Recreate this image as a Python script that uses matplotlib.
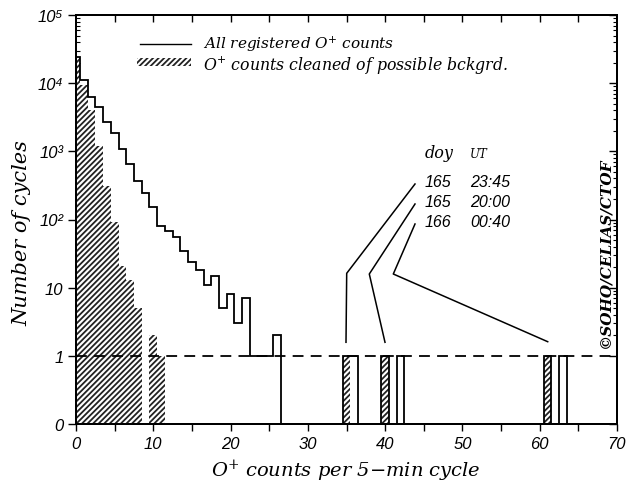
import numpy as np
import matplotlib
matplotlib.use("Agg")
import matplotlib.pyplot as plt
from matplotlib.patches import Rectangle
from matplotlib.ticker import FixedLocator, FixedFormatter
from matplotlib.font_manager import FontProperties

# ---------------- data ----------------
# counts per 5-min cycle (bin centres 0..70)
all_counts = [24000, 11000, 6300, 4500, 2700, 1870, 1070, 655, 370, 245,
              150, 81, 67, 55, 35, 24, 18, 11, 15, 5,
              8, 3, 7, 1, 1, 1, 2, 0, 0, 0,
              0, 0, 0, 0, 0, 1, 1, 0, 0, 0,
              1, 0, 1, 0, 0, 0, 0, 0, 0, 0,
              0, 0, 0, 0, 0, 0, 0, 0, 0, 0,
              0, 1, 0, 1, 0, 0, 0, 0, 0, 0, 0]
clean_bins = [0, 1, 2, 3, 4, 5, 6, 7, 8, 10, 11, 35, 40, 61]
clean_counts = [24000, 9500, 4000, 1200, 310, 92, 21, 13, 5, 2, 1, 1, 1, 1]

x_ticks = [0, 10, 20, 30, 40, 50, 60, 70]
y_ticks = [0, 1, 10, 100, 1000, 10000, 100000]
y_tick_labels = ["0", "1", "10", "10²", "10³", "10⁴", "10⁵"]

events_doy = ["165", "165", "166"]
events_ut = ["23:45", "20:00", "00:40"]

# ---------------- figure ----------------
plt.rcParams['mathtext.fontset'] = 'dejavuserif'
plt.rcParams['hatch.linewidth'] = 1.3
fig = plt.figure(figsize=(6.31, 4.85), dpi=100)
ax = fig.add_axes([76/631, 60/485, 541/631, 409/485])


def fwd(v):
    v = np.asarray(v, dtype=float)
    return np.where(v <= 1, v, 1 + np.log10(np.maximum(v, 1)))


def inv(t):
    t = np.asarray(t, dtype=float)
    return np.where(t <= 1, t, 10 ** (np.minimum(t, 20) - 1))


ax.set_yscale('function', functions=(fwd, inv))

# hatched (cleaned) histogram
ax.bar(clean_bins, clean_counts, width=1.0, align='center', bottom=0,
       facecolor='white', edgecolor='#222222', linewidth=0,
       hatch='//////', zorder=2)

# outline (all registered)
edges = np.arange(len(all_counts) + 1) - 0.5
ax.stairs(all_counts, edges, baseline=None, color='black', linewidth=1.3,
          zorder=3)

# dashed line at 1
ax.axhline(1, color='black', linestyle=(0, (6, 4)), linewidth=1.3, zorder=4)

ax.set_xlim(0, 70)
ax.set_ylim(0, 1e5)

# ticks
ax.xaxis.set_major_locator(FixedLocator(x_ticks))
ax.xaxis.set_minor_locator(FixedLocator(np.arange(5, 70, 10)))
ax.yaxis.set_major_locator(FixedLocator(y_ticks))
ax.yaxis.set_major_formatter(FixedFormatter(y_tick_labels))
minor_y = [m * 10 ** k for k in range(0, 5) for m in range(2, 10)]
ax.yaxis.set_minor_locator(FixedLocator(minor_y))

tickfp = FontProperties(family='Liberation Sans', style='italic', size=12)
for lab in ax.get_xticklabels() + ax.get_yticklabels():
    lab.set_fontproperties(tickfp)

ax.tick_params(axis='x', which='both', direction='out', length=5, width=1,
               top=False, pad=4)
ax.tick_params(axis='y', which='major', direction='out', length=6, width=1,
               pad=3)
ax.tick_params(axis='y', which='minor', direction='in', length=3, width=0.8)

# top and right inner ticks
axt = ax.twiny()
axt.set_xlim(0, 70)
axt.xaxis.set_major_locator(FixedLocator(np.arange(5, 70, 5)))
axt.tick_params(axis='x', direction='in', length=5, width=1, labeltop=False)
axr = ax.twinx()
axr.set_yscale('function', functions=(fwd, inv))
axr.set_ylim(0, 1e5)
axr.yaxis.set_major_locator(FixedLocator(y_ticks))
axr.yaxis.set_minor_locator(FixedLocator(minor_y))
axr.tick_params(axis='y', which='major', direction='in', length=6, width=1,
                labelright=False)
axr.tick_params(axis='y', which='minor', direction='in', length=3, width=0.8,
                labelright=False)

for a in (ax, axt, axr):
    for s in a.spines.values():
        s.set_linewidth(1.3)

# labels
labfont = dict(family='DejaVu Serif', style='italic')
fig.text(22/631, (485-233)/485, "Number of cycles", rotation=90,
         ha='center', va='center', fontsize=15, **labfont)
fig.text(346/631, (485-477)/485, r"O$^{+}$ counts per 5$-$min cycle",
         ha='center', va='baseline', fontsize=14, **labfont)

# legend (manual)
tr = ax.transAxes
ax.plot([(140-76)/541, (191-76)/541], [(425-45)/409, (425-45)/409],
        transform=tr, color='black', linewidth=1.0, clip_on=False)
ax.add_patch(Rectangle(((137-76)/541, (425-67)/409), 54/541, 8/409,
                       transform=tr, facecolor='white', edgecolor='#222222',
                       linewidth=0, hatch='//////', clip_on=False))
ax.text((203-76)/541, (425-44)/409, r"All registered O$^{+}$ counts",
        transform=tr, ha='left', va='center', fontsize=11, **labfont)
ax.text((203-76)/541, (425-65)/409,
        r"O$^{+}$ counts cleaned of possible bckgrd.",
        transform=tr, ha='left', va='center', fontsize=11.3, **labfont)

# event annotation
ax.text((425-76)/541, (425-153.5)/409, "doy", transform=tr, ha='left',
        va='center', fontsize=11.5, **labfont)
ax.text((470-76)/541, (425-155)/409, "UT", transform=tr, ha='left',
        va='center', fontsize=8.5, **labfont)
row_y = [182.5, 202.5, 222.5]
for d, u, py in zip(events_doy, events_ut, row_y):
    ax.text((425-76)/541, (425-py)/409, d, transform=tr, ha='left',
            va='center', family='Liberation Sans', style='italic', size=11.5)
    ax.text((470-76)/541, (425-py)/409, u, transform=tr, ha='left',
            va='center', family='Liberation Sans', style='italic', size=11.5)

leaders = [
    [(415, 185), (346.7, 274.3), (346, 343.3)],
    [(415, 205), (369.3, 275), (385, 343.3)],
    [(415, 225), (393.3, 275), (547.7, 342.7)],
]
for pts in leaders:
    xs = [(p[0]-76)/541 for p in pts]
    ys = [(425-p[1])/409 for p in pts]
    ax.plot(xs, ys, transform=tr, color='black', linewidth=1.1)

ax.text((605-76)/541, (425-252.5)/409, "©SOHO/CELIAS/CTOF", transform=tr,
        rotation=90, ha='center', va='center', fontsize=11,
        family='DejaVu Serif', style='italic', weight='bold')

fig.savefig("out.png", dpi=100)
